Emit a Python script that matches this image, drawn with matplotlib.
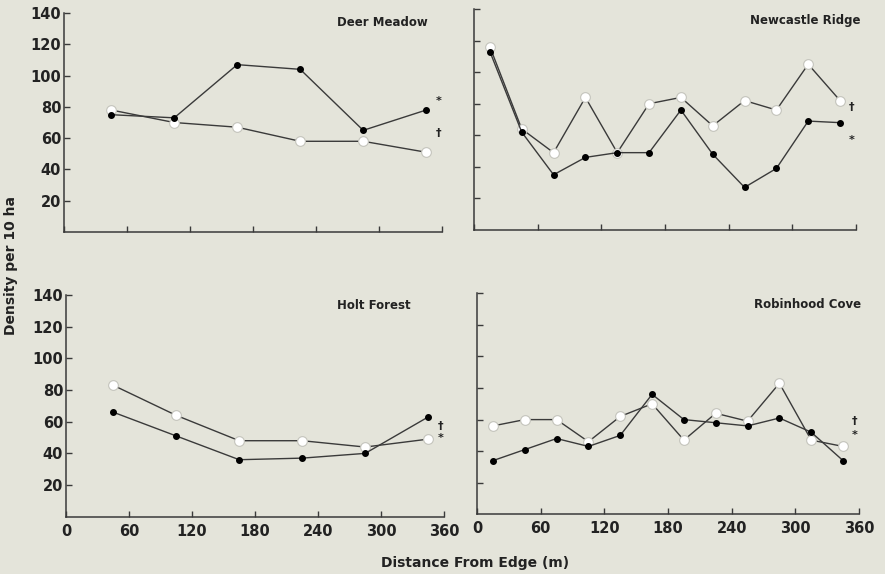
import matplotlib
matplotlib.use("Agg")
import matplotlib.pyplot as plt

# ---- data ----
x6 = [45, 105, 165, 225, 285, 345]
x12 = [15, 45, 75, 105, 135, 165, 195, 225, 255, 285, 315, 345]

deer_closed = [75, 73, 107, 104, 65, 78]
deer_open = [78, 70, 67, 58, 58, 51]

newc_closed = [113, 62, 35, 46, 49, 49, 76, 48, 27, 39, 69, 68]
newc_open = [116, 64, 49, 84, 49, 80, 84, 66, 82, 76, 105, 82]

holt_closed = [66, 51, 36, 37, 40, 63]
holt_open = [83, 64, 48, 48, 44, 49]

robin_closed = [34, 41, 48, 43, 50, 76, 60, 58, 56, 61, 52, 34]
robin_open = [56, 60, 60, 46, 62, 70, 47, 64, 59, 83, 47, 43]

titles = ["Deer Meadow", "Newcastle Ridge", "Holt Forest", "Robinhood Cove"]
xticks = [0, 60, 120, 180, 240, 300, 360]
yticks = [20, 40, 60, 80, 100, 120, 140]

BG = "#e4e4da"
LC = "#3a3a3a"

fig = plt.figure(figsize=(8.85, 5.74), dpi=100, facecolor=BG)
plt.rcParams['font.family'] = ['DejaVu Sans']

rects = [
    [0.0723, 0.5958, 0.4271, 0.3815],
    [0.5356, 0.5993, 0.4316, 0.3850],
    [0.0746, 0.0998, 0.4270, 0.3862],
    [0.5390, 0.1040, 0.4316, 0.3850],
]
panels = [
    (x6, deer_closed, deer_open, (346.7, 134), ("*", 357, 84), ("\u2020", 357, 63)),
    (x12, newc_closed, newc_open, (364.5, 132.5), ("\u2020", 356, 78), ("*", 356, 57)),
    (x6, holt_closed, holt_open, (328.6, 133.7), ("\u2020", 357, 57.5), ("*", 357, 49.5)),
    (x12, robin_closed, robin_open, (362, 132.9), ("\u2020", 356, 59), ("*", 356, 50.5)),
]

for i, (rect, (xs, yc, yo, tpos, m1, m2)) in enumerate(zip(rects, panels)):
    ax = fig.add_axes(rect)
    ax.set_facecolor(BG)
    ax.plot(xs, yo, color=LC, lw=1.0, marker='o', ms=7, mfc='white',
            mec='#c4c4bc', mew=0.8, zorder=3)
    ax.plot(xs, yc, color=LC, lw=1.0, marker='o', ms=4, mfc='black',
            mec='black', zorder=4)
    ax.set_xlim(0, 360)
    ax.set_ylim(0, 140)
    for s in ['top', 'right']:
        ax.spines[s].set_visible(False)
    for s in ['left', 'bottom']:
        ax.spines[s].set_color(LC)
        ax.spines[s].set_linewidth(1.1)
    ax.set_xticks(xticks)
    ax.set_yticks(yticks)
    ax.tick_params(direction='in', length=4, width=1.0, color=LC)
    if i in (0, 2):
        ax.set_yticklabels([str(v) for v in yticks], fontsize=10.5,
                           fontweight='bold', color='#222222')
    else:
        ax.set_yticklabels([])
    if i in (2, 3):
        ax.set_xticklabels([str(v) for v in xticks], fontsize=10.5,
                           fontweight='bold', color='#222222')
    else:
        ax.set_xticklabels([])
    ax.tick_params(axis='y', pad=2)
    ax.tick_params(axis='x', pad=5)
    ax.text(tpos[0], tpos[1], titles[i], ha='right', va='center',
            fontsize=8.5, fontweight='bold', color='#222222')
    for sym, mx, my in (m1, m2):
        ax.text(mx, my, sym, ha='center', va='center', fontsize=8,
                fontweight='bold', color='#222222', clip_on=False)

fig.text(0.012, 0.537, "Density per 10 ha", rotation=90, ha='center',
         va='center', fontsize=10, fontweight='bold', color='#222222')
fig.text(0.537, 0.0186, "Distance From Edge (m)", ha='center', va='center',
         fontsize=10, fontweight='bold', color='#222222')

fig.savefig("out.png", dpi=100, facecolor=BG)
